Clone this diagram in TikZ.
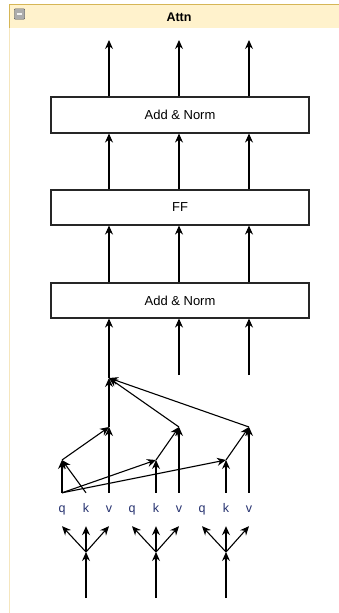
\documentclass[tikz,border=0pt]{standalone}
\usepackage{fontspec}
\setmainfont{Liberation Sans}
\usetikzlibrary{arrows.meta,calc}
\definecolor{hdrfill}{HTML}{FFF2CC}
\definecolor{hdrline}{HTML}{D6B656}
\definecolor{sideline}{HTML}{F5E6BE}
\definecolor{lbl}{HTML}{24306E}
\begin{document}
\begin{tikzpicture}[x=1pt,y=-1pt,
  arr/.style={draw=black, line width=1.1pt, -{Stealth[length=9pt,width=8pt,inset=3pt]}},
  box/.style={draw=black!85, line width=1.1pt, fill=white, minimum width=258pt, minimum height=36pt, inner sep=0pt, font=\fontsize{13}{15}\selectfont},
  lab/.style={inner sep=0pt, minimum height=33pt, text height=9pt, text depth=3pt, text=lbl, font=\fontsize{12.5}{14}\selectfont}]
\useasboundingbox (0,0) rectangle (339,613);
% container
\fill[hdrfill] (9.5,4) rectangle (339,28);
\draw[hdrline, line width=1pt] (9.5,4) -- (339,4);
\draw[hdrline, line width=1pt] (9.5,4) -- (9.5,28);
\draw[sideline, line width=1pt] (9.5,28) -- (9.5,613);
\node[font=\bfseries\fontsize{12.5}{14}\selectfont] (title) at (179,17) {Attn};
\node[draw=gray!70!black, fill=gray!65, rounded corners=1pt, minimum width=10.5pt, minimum height=10.5pt, inner sep=0pt] (collapse) at (19.5,14) {};
\draw[white!90!gray, line width=1.3pt] ($(collapse.west)+(2.5,0)$) -- ($(collapse.east)+(-2.5,0)$);
% boxes
\node[box] (an2) at (180,115) {Add \& Norm};
\node[box, minimum height=35pt] (ff) at (180,207.5) {FF};
\node[box, minimum height=35pt] (an1) at (180,300.5) {Add \& Norm};
% output points
\coordinate (o1) at (109,40);
\coordinate (o2) at (179,40);
\coordinate (o3) at (249,40);
\foreach \i in {1,2,3} {
  \draw[arr] (an2.north -| o\i) -- (o\i);
  \draw[arr] (ff.north -| o\i) -- (an2.south -| o\i);
  \draw[arr] (an1.north -| o\i) -- (ff.south -| o\i);
}
% attention points
\coordinate (S) at (109,378);
\coordinate (t2) at (179,375);
\coordinate (t3) at (249,375);
\coordinate (W1) at (109,427);
\coordinate (W2) at (179,427);
\coordinate (W3) at (249,427);
\coordinate (Sc1) at (62,460);
\coordinate (Sc2) at (156,460);
\coordinate (Sc3) at (226,460);
\draw[arr] (S) -- (an1.south -| S);
\draw[arr] (t2) -- (an1.south -| t2);
\draw[arr] (t3) -- (an1.south -| t3);
\draw[arr] (W1) -- (S);
\draw[arr] (W2) -- (S);
\draw[arr] (W3) -- (S);
\draw[arr] (Sc1) -- (W1);
\draw[arr] (Sc2) -- (W2);
\draw[arr] (Sc3) -- (W3);
% labels
\node[lab] (q1) at (62,509.5) {q};
\node[lab] (k1) at (86,509.5) {k};
\node[lab] (v1) at (109,509.5) {v};
\node[lab] (q2) at (132,509.5) {q};
\node[lab] (k2) at (156,509.5) {k};
\node[lab] (v2) at (179,509.5) {v};
\node[lab] (q3) at (202,509.5) {q};
\node[lab] (k3) at (226,509.5) {k};
\node[lab] (v3) at (249,509.5) {v};
\draw[arr] (q1.north) -- (Sc1);
\draw[arr] (k1.north) -- (Sc1);
\draw[arr] (q1.north) -- (Sc2);
\draw[arr] (q1.north) -- (Sc3);
\draw[arr] (k2.north) -- (Sc2);
\draw[arr] (k3.north) -- (Sc3);
\draw[arr] (v1.north) -- (W1);
\draw[arr] (v2.north) -- (W2);
\draw[arr] (v3.north) -- (W3);
% inputs
\coordinate (in1) at (86,598);
\coordinate (in2) at (156,598);
\coordinate (in3) at (226,598);
\coordinate (sp1) at (86,552);
\coordinate (sp2) at (156,552);
\coordinate (sp3) at (226,552);
\foreach \i in {1,2,3} {
  \draw[arr] (in\i) -- (sp\i);
  \draw[arr] (sp\i) -- (q\i.south);
  \draw[arr] (sp\i) -- (k\i.south);
  \draw[arr] (sp\i) -- (v\i.south);
}
\end{tikzpicture}
\end{document}
